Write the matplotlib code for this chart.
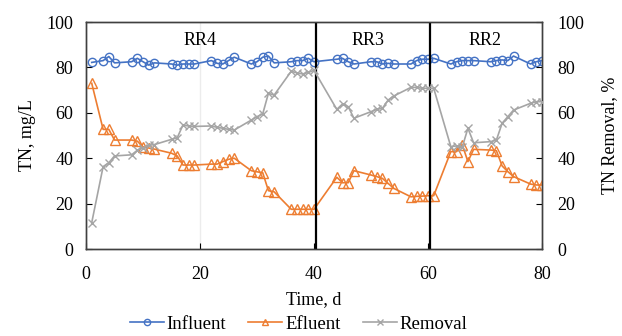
import matplotlib

matplotlib.use("Agg")
import matplotlib.pyplot as plt

plt.rcParams["font.family"] = ["Liberation Serif", "DejaVu Serif"]

BLUE = "#4472C4"
ORANGE = "#ED7D31"
GRAY = "#A5A5A5"

# --- values -----------------------------------------------------------------
DAYS = [1, 3, 4, 5, 8, 9, 10, 11, 12, 15, 16, 17, 18, 19,
        22, 23, 24, 25, 26, 29, 30, 31, 32, 33, 36, 37, 38, 39, 40,
        44, 45, 46, 47, 50, 51, 52, 53, 54, 57, 58, 59, 60, 61,
        64, 65, 66, 67, 68, 71, 72, 73, 74, 75, 78, 79, 80]

INFLUENT = [82.2, 83.0, 84.8, 82.0, 82.5, 84.0, 82.5, 81.0, 82.0, 81.5, 81.0, 81.5, 81.5, 81.5,
            83.0, 81.8, 81.5, 83.0, 84.5, 81.5, 82.5, 84.5, 85.0, 82.0, 82.5, 83.0, 83.0, 84.0, 82.5,
            83.6, 84.0, 82.5, 81.5, 82.5, 82.5, 81.5, 81.8, 81.5, 81.5, 83.0, 83.6, 83.6, 84.0,
            81.5, 82.5, 83.0, 83.0, 83.0, 82.5, 83.0, 83.3, 83.0, 85.0, 81.5, 82.5, 83.0]

EFFLUENT = [73.0, 52.7, 52.7, 48.0, 48.0, 47.5, 45.0, 44.5, 44.0, 42.2, 41.0, 37.0, 37.0, 37.0,
            37.4, 37.4, 38.5, 39.5, 40.0, 34.5, 34.0, 33.6, 25.7, 25.2, 17.5, 17.5, 17.5, 17.5, 17.5,
            31.6, 29.2, 29.2, 34.5, 32.6, 31.9, 31.1, 28.9, 26.7, 23.0, 23.2, 23.3, 23.5, 23.5,
            42.9, 42.9, 46.0, 38.5, 43.9, 43.6, 43.3, 36.6, 34.1, 31.9, 28.6, 28.2, 28.2]

REMOVAL = [11.6, 36.3, 38.0, 41.0, 41.5, 43.5, 44.5, 45.7, 46.0, 48.3, 49.0, 54.6, 54.2, 54.0,
           54.2, 53.6, 53.2, 52.7, 52.4, 56.8, 58.3, 59.5, 68.6, 67.8, 78.3, 77.6, 77.1, 77.8, 78.7,
           61.5, 63.9, 62.7, 57.6, 60.5, 61.5, 62.0, 65.6, 67.4, 71.2, 71.2, 70.8, 70.8, 70.8,
           45.1, 45.4, 44.8, 53.2, 46.8, 47.3, 48.0, 55.4, 58.3, 61.2, 64.2, 64.9, 64.9]

PHASE_BREAKS = [40.4, 60.4]
PHASE_LABELS = ["RR4", "RR3", "RR2"]
PHASE_LABEL_X = [20, 49.5, 70]
TICKS = [0, 20, 40, 60, 80]
Y_TICKS = [0, 20, 40, 60, 80, 100]

fig = plt.figure(figsize=(6.22, 3.36), dpi=100)
ax = fig.add_axes([0.1383, 0.2589, 0.7331, 0.6756])
ax2 = ax.twinx()

ax.axvline(20, color="#ececec", linewidth=1.0, zorder=0)

ax.plot(DAYS, INFLUENT, color=BLUE, marker="o", markersize=6, markerfacecolor="none",
        markeredgewidth=1.0, linewidth=1.2, label="Influent", zorder=3)
ax.plot(DAYS, EFFLUENT, color=ORANGE, marker="^", markersize=6.5, markerfacecolor="none",
        markeredgewidth=1.0, linewidth=1.2, label="Efluent", zorder=3)
ax2.plot(DAYS, REMOVAL, color=GRAY, marker="x", markersize=6, markeredgewidth=1.0,
         linewidth=1.2, label="Removal", zorder=3)

for xb in PHASE_BREAKS:
    ax.axvline(xb, color="black", linewidth=1.6, zorder=4)
for label, xl in zip(PHASE_LABELS, PHASE_LABEL_X):
    ax.text(xl, 92, label, ha="center", va="center", fontsize=13)

ax.set_xlim(0, 80)
ax.set_ylim(0, 100)
ax2.set_ylim(0, 100)
ax.set_xticks(TICKS)
ax.set_yticks(Y_TICKS)
ax2.set_yticks(Y_TICKS)

for a in (ax, ax2):
    a.tick_params(direction="in", labelsize=13, length=4, width=0.8, colors="black")
    for sp in a.spines.values():
        sp.set_color("#404040")
        sp.set_linewidth(1.0)
ax.tick_params(axis="x", pad=12)
ax.tick_params(axis="y", pad=9)
ax2.tick_params(axis="y", pad=11)

ax.set_xlabel("Time, d", fontsize=13, labelpad=6)
ax.set_ylabel("TN, mg/L", fontsize=13, labelpad=8)
ax2.set_ylabel("TN Removal, %", fontsize=13, labelpad=12)

handles = [ax.get_lines()[1], ax.get_lines()[2], ax2.get_lines()[0]]
fig.legend(handles, [h.get_label() for h in handles], loc="lower center",
           bbox_to_anchor=(0.48, -0.04), ncol=3, frameon=False, fontsize=13.5,
           handlelength=1.8, handletextpad=0.15, columnspacing=1.2, markerscale=0.75)

fig.savefig("out.png", dpi=100, facecolor="white")
